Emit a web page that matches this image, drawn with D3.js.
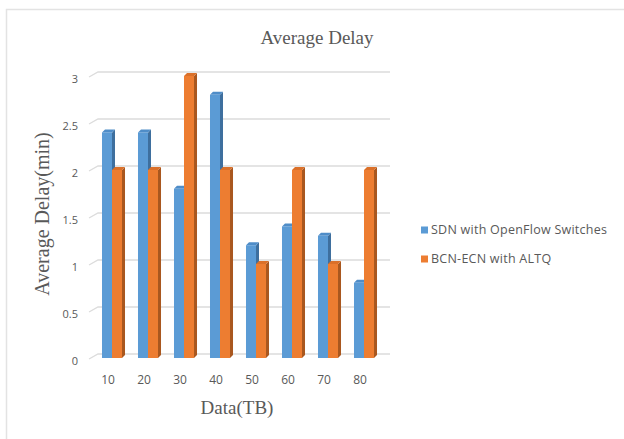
<!DOCTYPE html>
<html>
<head>
<meta charset="utf-8">
<script src="https://cdn.jsdelivr.net/npm/d3@7/dist/d3.min.js"></script>
<style>
  body { margin: 0; background: #fff; }
  svg { display: block; }
</style>
</head>
<body>
<svg id="chart" width="624" height="439"></svg>
<script>
// Average delay per data volume, two switching schemes
const categories = ["10", "20", "30", "40", "50", "60", "70", "80"];
const sdnValues = [2.4, 2.4, 1.8, 2.8, 1.2, 1.4, 1.3, 0.8];
const bcnValues = [2.0, 2.0, 3.0, 2.0, 1.0, 2.0, 1.0, 2.0];
const seriesNames = ["SDN with OpenFlow Switches", "BCN-ECN with ALTQ"];
const yTickValues = [0, 0.5, 1, 1.5, 2, 2.5, 3];
const yTickLabels = ["0", "0.5", "1", "1.5", "2", "2.5", "3"];

const palette = [
  { front: "#5B9BD5", side: "#3E6F9E", top: "#4F8DC8" },
  { front: "#ED7D31", side: "#A9571F", top: "#DB7029" }
];
const serif = "'Liberation Serif', 'Times New Roman', serif";
const sans = "'Open Sans', 'Noto Sans', sans-serif";
const textColor = "#595959";

const svg = d3.select("#chart");

// outer frame (only top and left edges fall inside the view)
svg.append("path")
  .attr("d", "M6.5,439 V9.5 H624")
  .attr("fill", "none")
  .attr("stroke", "#e3e3e3")
  .attr("stroke-width", 1.5);

// 3D geometry: bars have a small depth; the back wall sits behind them
const depthX = 3, depthY = 3;
const backShift = 4;

const x = d3.scaleBand().domain(categories).range([94, 382])
  .paddingInner(0.444).paddingOuter(0.222);
const xInner = d3.scaleBand().domain([0, 1]).range([0, x.bandwidth()]);
const yFront = d3.scaleLinear().domain([0, 3]).range([358, 76]);
const yBack = v => yFront(v) - backShift;

// gridlines: short slanted segment on the side wall, then along the back wall
const grid = svg.append("g").attr("class", "grid");
grid.selectAll("path")
  .data(yTickValues)
  .join("path")
  .attr("d", v => `M89,${yFront(v) + 1} L98,${yBack(v)} H390`)
  .attr("fill", "none")
  .attr("stroke", "#dcdcdc")
  .attr("stroke-width", 1.3);

// y tick labels
const yAxis = d3.axisLeft(yFront)
  .tickValues(yTickValues)
  .tickFormat((d, i) => yTickLabels[i])
  .tickSize(0)
  .tickPadding(0);
const yg = svg.append("g").attr("transform", "translate(78,3)").call(yAxis);
yg.select(".domain").remove();
yg.selectAll("text")
  .attr("fill", textColor)
  .style("font-family", sans)
  .style("font-size", "11px");

// x tick labels
const xAxis = d3.axisBottom(x).tickSize(0).tickPadding(0);
const xg = svg.append("g").attr("transform", "translate(-4,375)").call(xAxis);
xg.select(".domain").remove();
xg.selectAll("text")
  .attr("fill", textColor)
  .style("font-family", sans)
  .style("font-size", "12px");

// bars
const rows = categories.map((c, i) => ({ cat: c, vals: [sdnValues[i], bcnValues[i]] }));
const barsG = svg.append("g").attr("class", "bars");
rows.forEach(row => {
  row.vals.forEach((v, s) => {
    const x0 = x(row.cat) + xInner(s);
    const w = xInner.bandwidth();
    const yt = yFront(v), yb = yFront(0);
    const col = palette[s];
    const g = barsG.append("g");
    // right side face
    g.append("path")
      .attr("d", `M${x0 + w},${yb} L${x0 + w + depthX},${yb - depthY} L${x0 + w + depthX},${yt - depthY} L${x0 + w},${yt} Z`)
      .attr("fill", col.side);
    // top face
    g.append("path")
      .attr("d", `M${x0},${yt} L${x0 + depthX},${yt - depthY} L${x0 + w + depthX},${yt - depthY} L${x0 + w},${yt} Z`)
      .attr("fill", col.top);
    // front face
    g.append("rect")
      .attr("x", x0).attr("y", yt)
      .attr("width", w).attr("height", yb - yt)
      .attr("fill", col.front);
  });
});

// titles
svg.append("text")
  .attr("x", 317).attr("y", 44)
  .attr("text-anchor", "middle")
  .attr("fill", textColor)
  .style("font-family", serif)
  .style("font-size", "19px")
  .text("Average Delay");

svg.append("text")
  .attr("x", 237).attr("y", 414)
  .attr("text-anchor", "middle")
  .attr("fill", textColor)
  .style("font-family", serif)
  .style("font-size", "19px")
  .text("Data(TB)");

svg.append("text")
  .attr("transform", "translate(49,214) rotate(-90)")
  .attr("text-anchor", "middle")
  .attr("fill", textColor)
  .style("font-family", serif)
  .style("font-size", "20px")
  .text("Average Delay(min)");

// legend
const legend = svg.append("g").attr("transform", "translate(421,230)");
seriesNames.forEach((name, i) => {
  const item = legend.append("g").attr("transform", `translate(0,${i * 29})`);
  item.append("rect")
    .attr("x", 0).attr("y", -3.5)
    .attr("width", 7).attr("height", 7)
    .attr("fill", palette[i].front);
  item.append("text")
    .attr("x", 10).attr("y", 0)
    .attr("dy", "0.35em")
    .attr("fill", textColor)
    .style("font-family", sans)
    .style("font-size", "12.5px")
    .style("letter-spacing", "0.25px")
    .text(name);
});
</script>
</body>
</html>
